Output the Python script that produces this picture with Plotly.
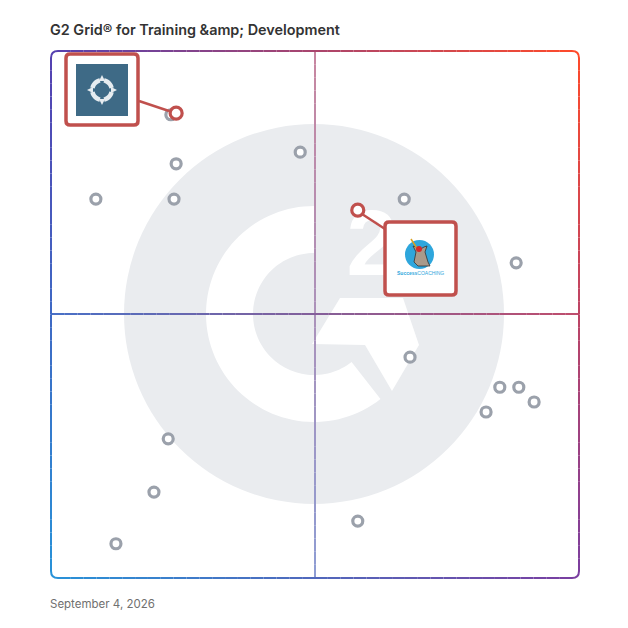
import plotly.graph_objects as go
import numpy as np

# ---------------- data (market presence x, satisfaction y; 0-100) ----------------
other_x = [22.7, 23.7, 47.2, 8.5, 23.3, 66.9, 88.1, 68.0, 85.0, 88.6, 91.5, 82.4, 22.2, 19.5, 58.1, 12.3]
other_y = [87.9, 78.6, 80.8, 71.9, 71.9, 71.9, 59.8, 41.9, 36.2, 36.2, 33.4, 31.5, 26.4, 16.3, 10.8, 6.5]
featured_names = ["Compass", "Success Coaching"]
featured_x = [23.7, 58.1]
featured_y = [88.2, 69.8]

title_text = "G2 Grid® for Training &amp;amp; Development"
date_text = "September 4, 2026"

# ---------------- geometry helpers (screen pixel -> paper) ----------------
OFF = 8  # default page body margin
W, H = 620, 620
L, R, T, B = 51, 579, 51, 578


def fx(px):
    return (px - L) / (R - L)


def fy(py):
    return (B - py) / (B - T)


TL = np.array([85, 64, 176])
TR = np.array([255, 74, 42])
BL = np.array([40, 146, 216])
BR = np.array([122, 62, 160])


def grad(u, v, fade=0.0):
    c = (1 - u) * (1 - v) * TL + u * (1 - v) * TR + (1 - u) * v * BL + u * v * BR
    c = c * (1 - fade) + 255 * fade
    return "rgb(%d,%d,%d)" % tuple(int(round(t)) for t in c)


shapes = []

# watermark circle
cx, cy, rad = 314, 314, 190
shapes.append(dict(type="circle", xref="paper", yref="paper",
                   x0=fx(cx - rad), x1=fx(cx + rad), y0=fy(cy + rad), y1=fy(cy - rad),
                   fillcolor="#eaecef", line=dict(width=0), layer="below"))

# white G ring
Ro, Ri = 108, 61
a0, a1 = np.deg2rad(90), np.deg2rad(360 - 52)
angs = np.linspace(a0, a1, 80)
pts = [(cx + Ro * np.cos(a), cy - Ro * np.sin(a)) for a in angs]
pts += [(cx + Ri * np.cos(a), cy - Ri * np.sin(a)) for a in angs[::-1]]
path = "M " + " L ".join("%.5f,%.5f" % (fx(p[0]), fy(p[1])) for p in pts) + " Z"
shapes.append(dict(type="path", xref="paper", yref="paper", path=path,
                   fillcolor="white", line=dict(width=0), layer="below"))
# chevron of the G
chev = [(312, 344), (340, 298), (403, 298), (419, 345), (392, 391), (365, 345)]
path = "M " + " L ".join("%.5f,%.5f" % (fx(p[0]), fy(p[1])) for p in chev) + " Z"
shapes.append(dict(type="path", xref="paper", yref="paper", path=path,
                   fillcolor="white", line=dict(width=0), layer="below"))

# quadrant lines (gradient segments)
N = 40
for i in range(N):
    v0, v1 = i / N, (i + 1) / N
    shapes.append(dict(type="line", xref="paper", yref="paper",
                       x0=fx(315), x1=fx(315), y0=1 - v0, y1=1 - v1,
                       line=dict(color=grad(0.5, (v0 + v1) / 2, 0.35), width=2), layer="below"))
for i in range(N):
    u0, u1 = i / N, (i + 1) / N
    shapes.append(dict(type="line", xref="paper", yref="paper",
                       x0=u0, x1=u1, y0=fy(314), y1=fy(314),
                       line=dict(color=grad((u0 + u1) / 2, 0.5, 0.05), width=2), layer="below"))

# border (rounded, gradient)
rc = 7
bw = 2
Np = 40
for i in range(Np):
    p0 = L + rc + (R - L - 2 * rc) * i / Np
    p1 = L + rc + (R - L - 2 * rc) * (i + 1) / Np
    u = ((p0 + p1) / 2 - L) / (R - L)
    shapes.append(dict(type="line", xref="paper", yref="paper", x0=fx(p0), x1=fx(p1), y0=fy(T), y1=fy(T),
                       line=dict(color=grad(u, 0), width=bw), layer="above"))
    shapes.append(dict(type="line", xref="paper", yref="paper", x0=fx(p0), x1=fx(p1), y0=fy(B), y1=fy(B),
                       line=dict(color=grad(u, 1), width=bw), layer="above"))
for i in range(Np):
    p0 = T + rc + (B - T - 2 * rc) * i / Np
    p1 = T + rc + (B - T - 2 * rc) * (i + 1) / Np
    v = ((p0 + p1) / 2 - T) / (B - T)
    shapes.append(dict(type="line", xref="paper", yref="paper", x0=fx(L), x1=fx(L), y0=fy(p0), y1=fy(p1),
                       line=dict(color=grad(0, v), width=bw), layer="above"))
    shapes.append(dict(type="line", xref="paper", yref="paper", x0=fx(R), x1=fx(R), y0=fy(p0), y1=fy(p1),
                       line=dict(color=grad(1, v), width=bw), layer="above"))
corners = [
    ((L, T + rc), (L, T), (L + rc, T), grad(0, 0)),
    ((R - rc, T), (R, T), (R, T + rc), grad(1, 0)),
    ((L, B - rc), (L, B), (L + rc, B), grad(0, 1)),
    ((R - rc, B), (R, B), (R, B - rc), grad(1, 1)),
]
for a, c, b, col in corners:
    path = "M %.5f,%.5f Q %.5f,%.5f %.5f,%.5f" % (fx(a[0]), fy(a[1]), fx(c[0]), fy(c[1]), fx(b[0]), fy(b[1]))
    shapes.append(dict(type="path", xref="paper", yref="paper", path=path,
                       line=dict(color=col, width=bw), layer="above"))

RED = "#c0504d"


def rrect(x0, y0, x1, y1, r):
    return ("M %f,%f L %f,%f Q %f,%f %f,%f L %f,%f Q %f,%f %f,%f L %f,%f Q %f,%f %f,%f L %f,%f Q %f,%f %f,%f Z" % (
        fx(x0 + r), fy(y0), fx(x1 - r), fy(y0), fx(x1), fy(y0), fx(x1), fy(y0 + r),
        fx(x1), fy(y1 - r), fx(x1), fy(y1), fx(x1 - r), fy(y1),
        fx(x0 + r), fy(y1), fx(x0), fy(y1), fx(x0), fy(y1 - r),
        fx(x0), fy(y0 + r), fx(x0), fy(y0), fx(x0 + r), fy(y0)))


# connectors
shapes.append(dict(type="line", xref="paper", yref="paper", x0=fx(139), y0=fy(101), x1=fx(169), y1=fy(111),
                   line=dict(color=RED, width=2.5), layer="above"))
shapes.append(dict(type="line", xref="paper", yref="paper", x0=fx(362), y0=fy(214), x1=fx(385), y1=fy(229),
                   line=dict(color=RED, width=2.5), layer="above"))

# logo box A
shapes.append(dict(type="path", xref="paper", yref="paper", path=rrect(66, 54, 138, 125, 4),
                   fillcolor="white", line=dict(color=RED, width=3.5), layer="above"))
shapes.append(dict(type="rect", xref="paper", yref="paper", x0=fx(76), x1=fx(128), y0=fy(116), y1=fy(64),
                   fillcolor="#3e6a86", line=dict(width=0), layer="above"))
# compass icon
icx, icy = 102, 90
for k in range(4):
    a_s = np.deg2rad(90 * k + 12)
    a_e = np.deg2rad(90 * k + 78)
    aa = np.linspace(a_s, a_e, 12)
    pts = [(icx + 12 * np.cos(a), icy - 12 * np.sin(a)) for a in aa] + \
          [(icx + 7.5 * np.cos(a), icy - 7.5 * np.sin(a)) for a in aa[::-1]]
    path = "M " + " L ".join("%.5f,%.5f" % (fx(p[0]), fy(p[1])) for p in pts) + " Z"
    shapes.append(dict(type="path", xref="paper", yref="paper", path=path,
                       fillcolor="#e6ecf0", line=dict(width=0), layer="above"))
for k in range(4):
    a = np.deg2rad(90 * k)
    tip = (icx + 15 * np.cos(a), icy - 15 * np.sin(a))
    bl = (icx + 9 * np.cos(a) + 3 * np.cos(a + np.pi / 2), icy - 9 * np.sin(a) - 3 * np.sin(a + np.pi / 2))
    br = (icx + 9 * np.cos(a) - 3 * np.cos(a + np.pi / 2), icy - 9 * np.sin(a) + 3 * np.sin(a + np.pi / 2))
    path = "M %f,%f L %f,%f L %f,%f Z" % (fx(tip[0]), fy(tip[1]), fx(bl[0]), fy(bl[1]), fx(br[0]), fy(br[1]))
    shapes.append(dict(type="path", xref="paper", yref="paper", path=path,
                       fillcolor="#e6ecf0", line=dict(width=0), layer="above"))

# logo box B
shapes.append(dict(type="path", xref="paper", yref="paper", path=rrect(385, 222, 456, 295, 4),
                   fillcolor="white", line=dict(color=RED, width=3.5), layer="above"))
shapes.append(dict(type="circle", xref="paper", yref="paper", x0=fx(405), x1=fx(434), y0=fy(269), y1=fy(240),
                   fillcolor="#2ea6dc", line=dict(width=0), layer="above"))
donkey = [(414, 262), (416, 252), (413, 246), (416, 247), (419, 250), (424, 247), (427, 246), (425, 252),
          (428, 262), (430, 266), (418, 266)]
path = "M " + " L ".join("%.5f,%.5f" % (fx(p[0]), fy(p[1])) for p in donkey) + " Z"
shapes.append(dict(type="path", xref="paper", yref="paper", path=path,
                   fillcolor="#a99a8a", line=dict(color="#333333", width=0.8), layer="above"))
shapes.append(dict(type="line", xref="paper", yref="paper", x0=fx(411), y0=fy(239), x1=fx(418), y1=fy(250),
                   line=dict(color="#d9a020", width=1.5), layer="above"))
shapes.append(dict(type="circle", xref="paper", yref="paper", x0=fx(416), x1=fx(422), y0=fy(252), y1=fy(246),
                   fillcolor="#d42a2a", line=dict(width=0), layer="above"))

fig = go.Figure()

# watermark "2"
fig.add_trace(go.Scatter(x=[(372 - L) / (R - L) * 100], y=[(B - 252) / (B - T) * 100], mode="text",
                         text=["2"], textfont=dict(family="Liberation Sans", size=92, color="white", weight="bold"),
                         hoverinfo="skip", showlegend=False))

fig.add_trace(go.Scatter(x=other_x, y=other_y, mode="markers",
                         marker=dict(symbol="circle", size=10, color="white",
                                     line=dict(color="#9ba1ab", width=3.2)),
                         hoverinfo="skip", showlegend=False))
fig.add_trace(go.Scatter(x=featured_x, y=featured_y, mode="markers", text=featured_names,
                         marker=dict(symbol="circle", size=12, color="white",
                                     line=dict(color=RED, width=3.2)),
                         hoverinfo="text", showlegend=False))

annotations = [
    dict(xref="paper", yref="paper", x=fx(420.5), y=fy(273), text="<b>Success</b>COACHING", showarrow=False,
         font=dict(family="Liberation Sans", size=5, color="#2ea6dc"), xanchor="center", yanchor="middle"),
    dict(xref="paper", yref="paper", x=fx(48), y=fy(29), text=title_text, showarrow=False,
         font=dict(family="Inter", size=14.4, color="#333333", weight=600), xanchor="left", yanchor="middle"),
    dict(xref="paper", yref="paper", x=fx(48), y=fy(604), text=date_text, showarrow=False,
         font=dict(family="Inter", size=11.5, color="#707070"), xanchor="left", yanchor="middle"),
]

fig.update_layout(
    width=W, height=H,
    margin=dict(l=L - OFF, r=(W + OFF) - R, t=T - OFF, b=(H + OFF) - B),
    paper_bgcolor="white", plot_bgcolor="white",
    xaxis=dict(range=[0, 100], visible=False, fixedrange=True),
    yaxis=dict(range=[0, 100], visible=False, fixedrange=True),
    shapes=shapes, annotations=annotations,
)

fig.write_html("out.html")
